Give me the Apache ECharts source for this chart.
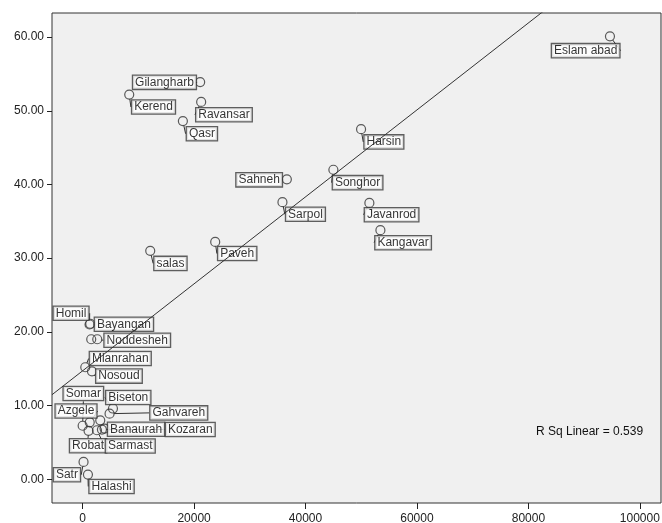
<!DOCTYPE html>
<html><head><meta charset="utf-8">
<script src="https://cdn.jsdelivr.net/npm/echarts@6/dist/echarts.min.js"></script>
<style>html,body{margin:0;padding:0;background:#fff}#c{width:662px;height:523px}</style>
</head><body><div id="c"></div>
<script>
// ---- data ----
const names = ['Eslam abad','Gilangharb','Kerend','Ravansar','Qasr','Harsin','Sahneh','Songhor','Sarpol','Javanrod','Kangavar','Paveh','salas',
  'Homil','Bayangan','Noddesheh','','Mianrahan','Nosoud','Biseton','Gahvareh','Somar','Azgele','','Robat','Sarmast','Kozaran','Banaurah','Satr','Halashi'];
const xValues = [94640,21090,8360,21270,17990,49970,36650,45000,35860,51460,53440,23790,12130,
  1240,1360,2620,1540,470,1670,5440,4830,0,1270,3160,1060,2570,3460,3930,160,950];
const yValues = [60.1,53.9,52.2,51.2,48.6,47.5,40.7,42.0,37.6,37.5,33.8,32.2,31.0,
  21.0,21.1,19.0,19.0,15.2,14.65,9.6,8.9,7.26,7.73,8.0,6.58,6.65,6.74,6.88,2.35,0.64];
const fitIntercept = 14.72;
const fitSlope = 0.00059;
const rSquaredText = 'R Sq Linear = 0.539';
const xTicks = [0,20000,40000,60000,80000,100000];
const yTicks = [0,10,20,30,40,50,60];
const xMin = -5500, xMax = 103800, yMin = -3.22, yMax = 63.27;

// ---- label placement (pixel offsets of label box centre from point) ----
const labelOffsets = [[-24.3,14.3],[-35.7,0.3],[24.3,12.4],[22.8,12.8],[19,12.6],[22.8,12.7],[-27.7,0.5],[24.2,12.9],[23,12.1],[22.2,11.9],[22.7,12.5],[22,11.6],[20.2,12.6],
  [-18.5,-11.3],[33.7,0.5],[40,1],[0,0],[35,-8.7],[27,4.8],[15.3,-11],[69.2,-0.8],[0.7,-32.2],[-13.7,-11.3],[0,0],[-0.5,15],[33.3,15.8],[88.3,-0.1],[31.5,0.7],[-16.6,12.8],[23.6,11.9]];

const FONT = '"Liberation Sans", Arial, sans-serif';
const points = names.map((n, i) => ({
  name: n, value: [xValues[i], yValues[i]], label: { show: n !== '' }
}));

const chart = echarts.init(document.getElementById('c'), null, { renderer: 'canvas' });
chart.setOption({
  animation: false,
  backgroundColor: '#ffffff',
  grid: { left: 52, right: 1, top: 13, bottom: 20, containLabel: false, outerBoundsMode: 'none',
    show: true, backgroundColor: '#f0f0f0', borderColor: '#333', borderWidth: 1 },
  xAxis: {
    type: 'value', min: xMin, max: xMax,
    axisLine: { show: false, onZero: false },
    splitLine: { show: false },
    axisTick: { show: true, length: 6, customValues: xTicks, lineStyle: { color: '#222' } },
    axisLabel: { customValues: xTicks, margin: 10, fontSize: 12, fontFamily: FONT, color: '#222',
      formatter: v => String(v) }
  },
  yAxis: {
    type: 'value', min: yMin, max: yMax,
    axisLine: { show: false, onZero: false },
    splitLine: { show: false },
    axisTick: { show: true, length: 5, customValues: yTicks, lineStyle: { color: '#222' } },
    axisLabel: { customValues: yTicks, margin: 8, fontSize: 12, fontFamily: FONT, color: '#222',
      formatter: v => Number(v).toFixed(2) }
  },
  series: [
    {
      type: 'scatter', z: 2,
      symbol: 'circle', symbolSize: 9,
      itemStyle: { color: 'rgba(0,0,0,0)', borderColor: '#333', borderWidth: 1.2 },
      data: points,
      label: {
        show: true, position: 'inside', formatter: '{b}',
        fontSize: 12, fontFamily: FONT, color: '#000',
        backgroundColor: '#fff', borderColor: '#3a3a3a', borderWidth: 1.3, padding: [1, 2, 0, 2]
      },
      labelLine: { show: true, lineStyle: { color: '#333', width: 1 } },
      labelLayout: function (p) {
        const off = labelOffsets[p.dataIndex] || [0, 0];
        const cx = p.rect.x + p.rect.width / 2, cy = p.rect.y + p.rect.height / 2;
        const lr = p.labelRect;
        const lx = lr.x + off[0], ly = lr.y + off[1];
        const nx = Math.max(lx, Math.min(cx, lx + lr.width));
        const ny = Math.max(ly, Math.min(cy, ly + lr.height));
        const ddx = nx - cx, ddy = ny - cy, d = Math.hypot(ddx, ddy), r = 4.5;
        const pts = d > r + 1 ? [[cx + ddx / d * r, cy + ddy / d * r], [nx, ny]] : [[cx, cy], [cx, cy]];
        return { dx: off[0], dy: off[1], labelLinePoints: pts };
      }
    },
    {
      type: 'line', z: 10, silent: true, clip: true,
      symbol: 'none',
      lineStyle: { color: '#333', width: 1 },
      data: [[xMin, fitIntercept + fitSlope * xMin], [xMax, fitIntercept + fitSlope * xMax]]
    }
  ],
  graphic: [{
    type: 'text', left: 536, top: 426,
    style: { text: rSquaredText, fontSize: 12, fontFamily: FONT, fill: '#111' }
  }]
});
</script>
</body></html>
